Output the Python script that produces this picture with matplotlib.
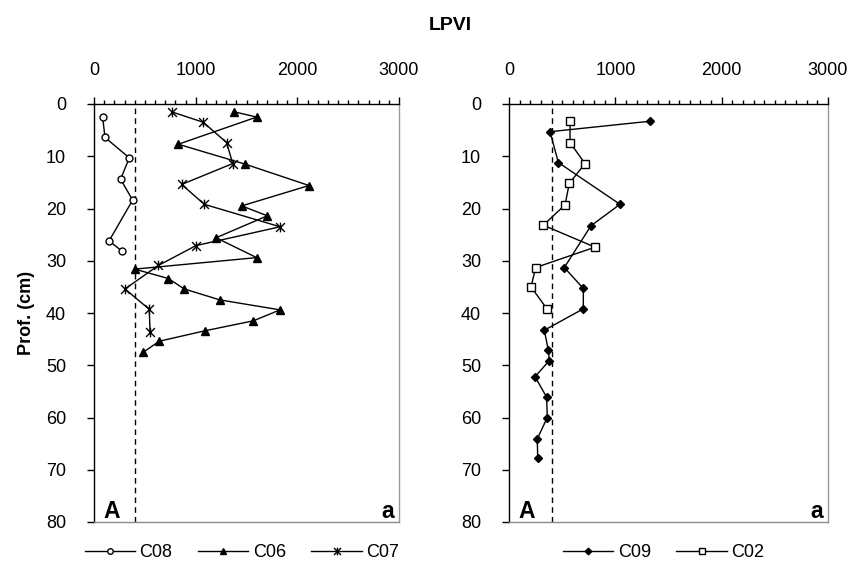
import matplotlib
matplotlib.use("Agg")
import matplotlib.pyplot as plt
from matplotlib.path import Path
from matplotlib.ticker import MultipleLocator

plt.rcParams['font.family'] = ['Liberation Sans', 'DejaVu Sans']

# ---------------- data ----------------
c08_lpvi = [85, 108, 347, 262, 380, 148, 272]
c08_depth = [2.5, 6.4, 10.3, 14.4, 18.4, 26.2, 28.1]

c06_lpvi = [1380, 1600, 829, 1485, 2115, 1453, 1705, 1200, 1600, 400,
            731, 888, 1239, 1830, 1567, 1092, 642, 485]
c06_depth = [1.5, 2.5, 7.7, 11.5, 15.6, 19.5, 21.4, 25.6, 29.4, 31.6,
             33.4, 35.4, 37.5, 39.4, 41.5, 43.4, 45.4, 47.5]

c07_lpvi = [764, 1075, 1305, 1364, 862, 1085, 1830, 1003, 633, 305, 544, 551]
c07_depth = [1.5, 3.5, 7.4, 11.4, 15.4, 19.2, 23.5, 27.1, 30.9, 35.4, 39.3, 43.7]

c09_lpvi = [1326, 386, 464, 1044, 771, 520, 699, 699, 332, 370, 379, 245,
            354, 360, 266, 270]
c09_depth = [3.3, 5.3, 11.2, 19.2, 23.3, 31.3, 35.3, 39.2, 43.3, 47.1, 49.1,
             52.2, 56.1, 60.0, 64.1, 67.8]

c02_lpvi = [574, 574, 715, 567, 527, 323, 809, 251, 207, 360]
c02_depth = [3.2, 7.4, 11.4, 15.2, 19.3, 23.2, 27.4, 31.3, 35.0, 39.3]

threshold = 400
x_ticks = [0, 1000, 2000, 3000]
y_ticks = [0, 10, 20, 30, 40, 50, 60, 70, 80]

# ---------------- figure ----------------
W, H = 856, 564
fig = plt.figure(figsize=(W / 100, H / 100), dpi=100)

def ax_rect(x0, x1, y0, y1):
    return [x0 / W, 1 - y1 / H, (x1 - x0) / W, (y1 - y0) / H]

axL = fig.add_axes(ax_rect(94, 399, 104, 522))
axR = fig.add_axes(ax_rect(509, 828, 104, 522))

star = Path([(-1, -1), (1, 1), (-1, 1), (1, -1), (0, -1.1), (0, 1.1)],
            [Path.MOVETO, Path.LINETO, Path.MOVETO, Path.LINETO,
             Path.MOVETO, Path.LINETO])

lw = 1.0
FS = 13

def style(ax):
    ax.set_xlim(0, 3000)
    ax.set_ylim(80, 0)
    ax.xaxis.tick_top()
    ax.set_xticks(x_ticks)
    ax.xaxis.set_minor_locator(MultipleLocator(100))
    ax.set_yticks(y_ticks)
    ax.tick_params(axis='x', which='major', direction='out', length=5,
                   width=1, pad=13, labelsize=FS)
    ax.tick_params(axis='x', which='minor', direction='out', length=3,
                   width=1)
    ax.tick_params(axis='y', which='major', direction='out', length=5,
                   width=1, pad=15, labelsize=FS)
    ax.spines['left'].set_color('black')
    ax.spines['top'].set_color('black')
    ax.spines['right'].set_color('#9a9a9a')
    ax.spines['bottom'].set_color('#8a8a8a')
    for s in ax.spines.values():
        s.set_linewidth(1.0)
    ax.axvline(threshold, color='black', lw=1.0, ls=(0, (4, 3)))
    ax.text(0.03, 0.01, 'A', transform=ax.transAxes, fontsize=16.5,
            fontweight='bold', ha='left', va='baseline')
    ax.text(0.985, 0.01, 'a', transform=ax.transAxes, fontsize=16.5,
            fontweight='bold', ha='right', va='baseline')

style(axL)
style(axR)

axL.plot(c08_lpvi, c08_depth, color='black', lw=lw, marker='o', ms=5,
         mfc='white', mec='black', mew=1.0, label='C08')
axL.plot(c06_lpvi, c06_depth, color='black', lw=lw, marker='^', ms=6,
         mfc='black', mec='black', label='C06')
axL.plot(c07_lpvi, c07_depth, color='black', lw=lw, marker=star, ms=7,
         mfc='none', mec='black', mew=1.0, label='C07')

axR.plot(c09_lpvi, c09_depth, color='black', lw=lw, marker='D', ms=4.2,
         mfc='black', mec='black', label='C09')
axR.plot(c02_lpvi, c02_depth, color='black', lw=lw, marker='s', ms=6,
         mfc='white', mec='black', mew=1.0, label='C02')

for ax, n in ((axL, 3), (axR, 2)):
    ax.legend(loc='center', bbox_to_anchor=(0.485, -0.073), ncol=n,
              frameon=False, fontsize=FS, handlelength=2.8,
              handletextpad=0.25, columnspacing=1.4, borderaxespad=0,
              markerscale=0.8)

axL.set_ylabel('Prof. (cm)', fontsize=FS, fontweight='bold', labelpad=8)
fig.text(450 / W, 1 - 26 / H, 'LPVI', fontsize=14, fontweight='bold',
         ha='center', va='center')

fig.savefig('out.png', dpi=100)
